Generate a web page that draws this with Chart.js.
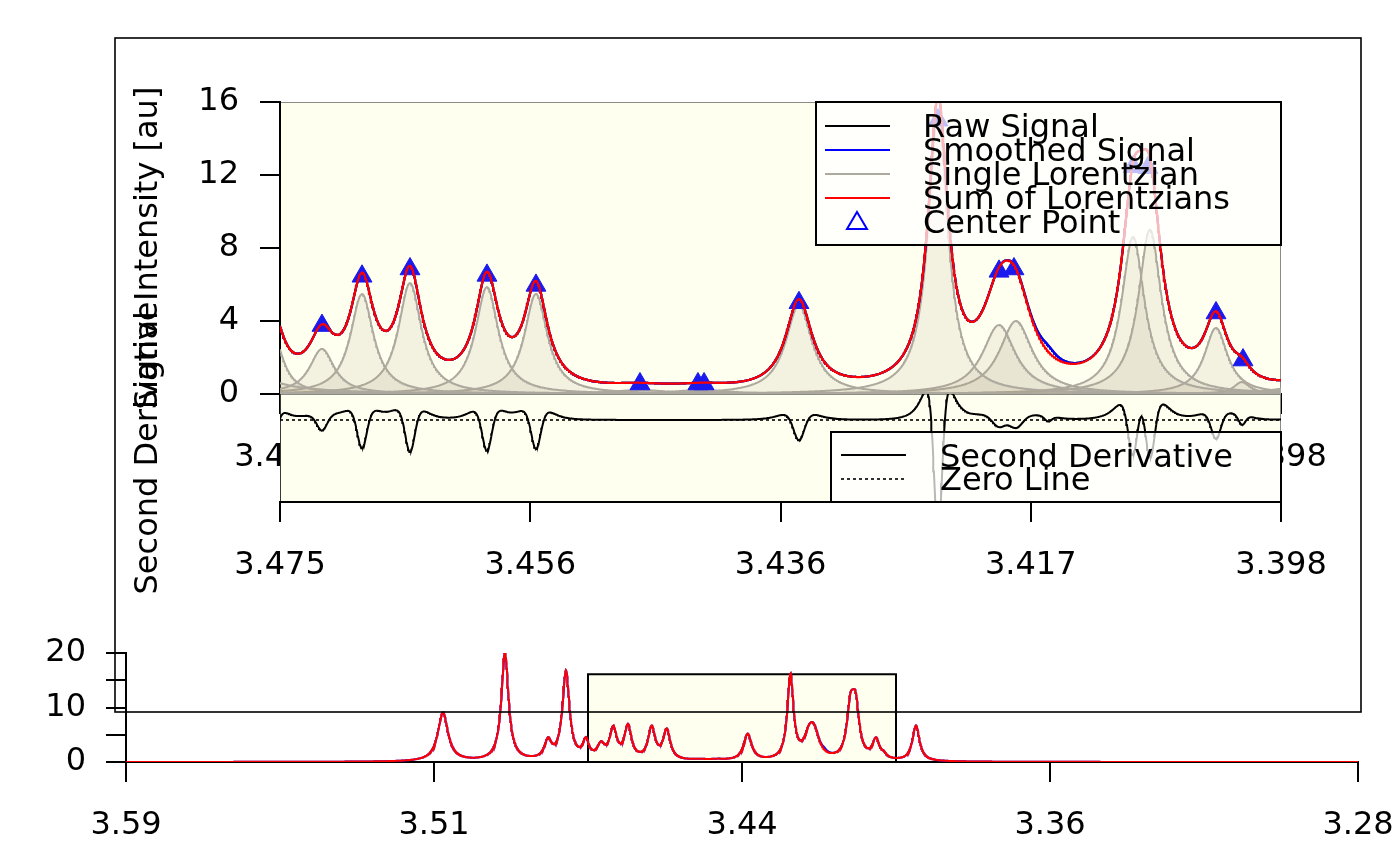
<!DOCTYPE html>
<html>
<head>
<meta charset="utf-8">
<script src="https://cdn.jsdelivr.net/npm/chart.js@4.4.1/dist/chart.umd.min.js"></script>
<style>
html,body{margin:0;padding:0;background:#fff;width:1400px;height:866px;overflow:hidden}
canvas{position:absolute;left:0;top:0}
</style>
</head>
<body>
<canvas id="cMain" width="1400" height="866"></canvas>
<canvas id="cDeriv" width="1400" height="866"></canvas>
<canvas id="cOver" width="1400" height="866"></canvas>
<script>
// ---------------- data ----------------
// Lorentzian components: center (ppm), height (au), half width at half maximum (ppm)
const peakCenters = [3.51125, 3.49575, 3.48500, 3.48050, 3.47554, 3.47177, 3.46869, 3.46500, 3.45908, 3.45531,
                     3.44731, 3.44262, 3.43508, 3.42438, 3.41969, 3.41838, 3.40938, 3.40808, 3.40300, 3.40100, 3.39300];
const peakHeights = [8.95, 19.8, 3.3, 16.2, 3.3, 2.47, 5.48, 6.08, 5.86, 5.48,
                     0.22, 0.22, 4.88, 15.5, 3.78, 4.0, 8.6, 9.0, 3.62, 0.66, 6.5];
const peakWidths  = [0.00154, 0.00108, 0.00108, 0.00108, 0.00092, 0.00115, 0.00108, 0.00108, 0.00108, 0.00108,
                     0.00269, 0.00269, 0.00123, 0.00092, 0.00154, 0.00154, 0.00108, 0.00108, 0.00108, 0.00077, 0.00108];
// small residual shoulder present in the measured (raw / smoothed) signal only
const residualCenters = [3.41591];
const residualHeights = [0.35];
const residualWidths  = [0.00077];
// detected center points
const centerPPM = [3.47177, 3.46869, 3.46500, 3.45908, 3.45531, 3.44731, 3.44285, 3.44238, 3.43508,
                   3.42438, 3.41969, 3.41854, 3.40938, 3.40823, 3.40300, 3.40092];
const centerIntensity = [3.75, 6.45, 6.85, 6.5, 5.95, 0.55, 0.55, 0.55, 5.0,
                         15.0, 6.72, 6.85, 12.45, 12.4, 4.44, 1.86];
// axes
const mainRange = [3.398, 3.475];
const mainXTicks = [3.475, 3.45575, 3.4365, 3.41725, 3.398];
const mainXTickLabels = ['3.475', '3.456', '3.436', '3.417', '3.398'];
const mainYTicks = [0, 4, 8, 12, 16];
const mainYTickLabels = ['0', '4', '8', '12', '16'];
const overRange = [3.2825, 3.5905];
const overXTicks = [3.5905, 3.5135, 3.4365, 3.3595, 3.2825];
const overXTickLabels = ['3.59', '3.51', '3.44', '3.36', '3.28'];
const overYTicks = [0, 5, 10, 15, 20];
const overYTickLabels = ['0', '', '10', '', '20'];
const zoomBoxTop = 16.1;
const legendLabels = ['Raw Signal', 'Smoothed Signal', 'Single Lorentzian', 'Sum of Lorentzians', 'Center Point'];
const derivLegendLabels = ['Second Derivative', 'Zero Line'];

// ---------------- helpers ----------------
const FS = 32;
const lor = (x, c, h, w) => h * w * w / ((x - c) * (x - c) + w * w);
const lor2 = (x, c, h, w) => { const u2 = (x - c) * (x - c), w2 = w * w; return h * w2 * (6 * u2 - 2 * w2) / Math.pow(u2 + w2, 3); };
function grid(a, b, step) { const n = Math.round((b - a) / step); const out = []; for (let i = 0; i <= n; i++) out.push(a + i * step); return out; }
function sumAt(x) { let s = 0; for (let k = 0; k < peakCenters.length; k++) s += lor(x, peakCenters[k], peakHeights[k], peakWidths[k]); return s; }
function residAt(x) { let s = 0; for (let k = 0; k < residualCenters.length; k++) s += lor(x, residualCenters[k], residualHeights[k], residualWidths[k]); return s; }
function d2At(x) {
  let s = 0;
  for (let k = 0; k < peakCenters.length; k++) s += lor2(x, peakCenters[k], peakHeights[k], peakWidths[k]);
  for (let k = 0; k < residualCenters.length; k++) s += lor2(x, residualCenters[k], residualHeights[k], residualWidths[k]);
  return s;
}

const xsMain = grid(mainRange[0], mainRange[1], 0.00005);
const xsOver = grid(overRange[0], overRange[1], 0.0001);

const sumMain = xsMain.map(x => ({x, y: sumAt(x)}));
const smoothMain = xsMain.map(x => ({x, y: sumAt(x) + residAt(x)}));
const rawMain = xsMain.map(x => ({x, y: sumAt(x) + residAt(x)}));
const derivData = xsMain.map(x => ({x, y: d2At(x)}));
const sumOver = xsOver.map(x => ({x, y: sumAt(x)}));
const smoothOver = xsOver.map(x => ({x, y: sumAt(x) + residAt(x)}));

const refDip = d2At(peakCenters[7]);
const derivMin = refDip * 82 / 32;
const derivMax = -refDip * 26 / 32;

Chart.defaults.font.family = 'DejaVu Sans';
Chart.defaults.font.size = FS;
Chart.defaults.color = '#000';

const IVORY = '#FFFFF0';
const panelBg = {
  id: 'panelBg',
  beforeDraw(chart) {
    const a = chart.chartArea, c = chart.ctx;
    c.save();
    c.fillStyle = IVORY;
    c.fillRect(a.left, a.top, a.right - a.left, a.bottom - a.top);
    c.strokeStyle = 'rgba(0,0,0,0.45)';
    c.lineWidth = 1;
    c.strokeRect(a.left + 0.5, a.top + 0.5, a.right - a.left - 1, a.bottom - a.top - 1);
    c.restore();
  }
};

function legendBox(c, x, y, w, h) {
  c.fillStyle = 'rgba(255,255,255,0.72)';
  c.fillRect(x, y, w, h);
  c.strokeStyle = '#000';
  c.lineWidth = 2;
  c.strokeRect(x, y, w, h);
}

const mainLegend = {
  id: 'mainLegend',
  afterDatasetsDraw(chart) {
    const a = chart.chartArea, c = chart.ctx;
    const w = 465, h = 143, x0 = a.right - w, y0 = a.top;
    c.save();
    legendBox(c, x0, y0, w, h);
    const colors = ['#000000', '#0000FF', '#ADA99E', '#FF0000'];
    c.lineWidth = 2;
    for (let i = 0; i < 4; i++) {
      const yy = y0 + 24 + i * 24;
      c.strokeStyle = colors[i];
      c.beginPath(); c.moveTo(x0 + 9, yy); c.lineTo(x0 + 74, yy); c.stroke();
    }
    // open triangle
    const tx = x0 + 41, ty = y0 + 120;
    c.strokeStyle = '#0000FF'; c.lineWidth = 2;
    c.beginPath(); c.moveTo(tx, ty - 10); c.lineTo(tx + 10, ty + 7); c.lineTo(tx - 10, ty + 7); c.closePath(); c.stroke();
    c.fillStyle = '#000';
    c.font = FS + 'px "DejaVu Sans"';
    c.textAlign = 'left'; c.textBaseline = 'alphabetic';
    for (let i = 0; i < legendLabels.length; i++) c.fillText(legendLabels[i], x0 + 107, y0 + 35 + i * 24);
    c.restore();
  }
};

const derivLegend = {
  id: 'derivLegend',
  afterDatasetsDraw(chart) {
    const a = chart.chartArea, c = chart.ctx;
    const w = 450, h = 70, x0 = a.right - w, y0 = a.bottom - h;
    c.save();
    legendBox(c, x0, y0, w, h);
    c.strokeStyle = '#000'; c.lineWidth = 2;
    c.beginPath(); c.moveTo(x0 + 10, y0 + 23); c.lineTo(x0 + 75, y0 + 23); c.stroke();
    c.lineWidth = 1.6; c.setLineDash([3, 3]);
    c.beginPath(); c.moveTo(x0 + 10, y0 + 47); c.lineTo(x0 + 75, y0 + 47); c.stroke();
    c.setLineDash([]);
    c.fillStyle = '#000';
    c.font = FS + 'px "DejaVu Sans"';
    c.textAlign = 'left'; c.textBaseline = 'alphabetic';
    c.fillText(derivLegendLabels[0], x0 + 109, y0 + 35);
    c.fillText(derivLegendLabels[1], x0 + 109, y0 + 58);
    c.restore();
  }
};

const zoomBox = {
  id: 'zoomBox',
  beforeDatasetsDraw(chart) {
    const xs = chart.scales.x, ys = chart.scales.y, c = chart.ctx;
    const l = xs.getPixelForValue(mainRange[1]), r = xs.getPixelForValue(mainRange[0]);
    const t = ys.getPixelForValue(zoomBoxTop), b = ys.getPixelForValue(0);
    c.save();
    c.fillStyle = IVORY; c.fillRect(l, t, r - l, b - t);
    c.strokeStyle = '#000'; c.lineWidth = 2; c.strokeRect(l, t, r - l, b - t);
    c.restore();
  },
  afterDraw(chart) {
    const c = chart.ctx;
    c.save();
    c.strokeStyle = '#000'; c.lineWidth = 1.6;
    c.strokeRect(115, 38, 1246, 674);
    c.restore();
  }
};

function xAxis(range, ticks, labels, height) {
  return {
    type: 'linear', reverse: true, min: range[0], max: range[1],
    afterBuildTicks: s => { s.ticks = ticks.map(v => ({value: v})); },
    afterFit: s => { s.height = height; s.paddingLeft = 0; s.paddingRight = 0; },
    ticks: {autoSkip: false, maxRotation: 0, minRotation: 0, padding: 24, color: '#000',
            font: {size: FS}, callback: (v, i) => labels[i]},
    grid: {drawOnChartArea: false, color: '#000', lineWidth: 2, tickLength: 20},
    border: {display: true, color: '#000', width: 2}
  };
}

const common = {
  responsive: false, animation: false, devicePixelRatio: 1,
  parsing: false, normalized: true,
  events: [],
  plugins: {legend: {display: false}, tooltip: {enabled: false}}
};

// ---------------- main panel ----------------
const compDatasets = peakCenters.map((c0, k) => ({
  label: 'Single Lorentzian',
  data: xsMain.map(x => ({x, y: lor(x, c0, peakHeights[k], peakWidths[k])})),
  borderColor: '#ADA99E', borderWidth: 2, pointRadius: 0,
  fill: 'origin', backgroundColor: 'rgba(175,162,133,0.15)', order: 10 + k
}));

new Chart(document.getElementById('cMain'), {
  type: 'line',
  data: {datasets: [
    {label: 'Sum of Lorentzians', data: sumMain, borderColor: '#FF0000', borderWidth: 2.2, pointRadius: 0, fill: false, order: 0},
    {label: 'Center Point', data: centerPPM.map((x, i) => ({x, y: centerIntensity[i]})), showLine: false,
     pointStyle: 'triangle', pointRadius: 11.5, pointBackgroundColor: '#1a1aee', pointBorderColor: '#1a1aee', pointBorderWidth: 1, order: 1},
    {label: 'Smoothed Signal', data: smoothMain, borderColor: '#0000FF', borderWidth: 2.2, pointRadius: 0, fill: false, order: 2},
    {label: 'Raw Signal', data: rawMain, borderColor: '#000000', borderWidth: 2.2, pointRadius: 0, fill: false, order: 3},
    ...compDatasets
  ]},
  options: Object.assign({}, common, {
    layout: {padding: {left: 0, top: 102, right: 119, bottom: 0}},
    scales: {
      x: xAxis(mainRange, mainXTicks, mainXTickLabels, 472),
      y: {
        min: 0, max: 16,
        afterBuildTicks: s => { s.ticks = mainYTicks.map(v => ({value: v})); },
        afterFit: s => { s.width = 280; s.paddingTop = 0; s.paddingBottom = 0; },
        ticks: {padding: 21, color: '#000', font: {size: FS}, callback: (v, i) => mainYTickLabels[i]},
        grid: {drawOnChartArea: false, color: '#000', lineWidth: 2, tickLength: 20},
        border: {display: true, color: '#000', width: 2},
        title: {display: true, text: 'Signal Intensity [au]', color: '#000', font: {size: FS, lineHeight: 1.2}, padding: {top: 129, bottom: 0}}
      }
    }
  }),
  plugins: [panelBg, mainLegend]
});

// ---------------- second derivative panel ----------------
new Chart(document.getElementById('cDeriv'), {
  type: 'line',
  data: {datasets: [
    {label: 'Second Derivative', data: derivData, borderColor: '#000', borderWidth: 2, pointRadius: 0, fill: false, order: 0},
    {label: 'Zero Line', data: [{x: mainRange[1], y: 0}, {x: mainRange[0], y: 0}], borderColor: '#000', borderWidth: 1.6,
     borderDash: [3, 3], pointRadius: 0, fill: false, order: 1}
  ]},
  options: Object.assign({}, common, {
    layout: {padding: {left: 0, top: 394, right: 119, bottom: 0}},
    scales: {
      x: xAxis(mainRange, mainXTicks, mainXTickLabels, 364),
      y: {
        min: derivMin, max: derivMax,
        afterFit: s => { s.width = 280; s.paddingTop = 0; s.paddingBottom = 0; },
        ticks: {display: false},
        grid: {display: false},
        border: {display: true, color: 'rgba(0,0,0,0.6)', width: 1},
        title: {display: true, text: 'Second Derivative', color: '#000', font: {size: FS, lineHeight: 1.2}, padding: {top: 129, bottom: 0}}
      }
    }
  }),
  plugins: [panelBg, derivLegend]
});

// ---------------- overview panel ----------------
new Chart(document.getElementById('cOver'), {
  type: 'line',
  data: {datasets: [
    {label: 'Sum of Lorentzians', data: sumOver, borderColor: '#FF0000', borderWidth: 2, pointRadius: 0, fill: false, order: 0},
    {label: 'Smoothed Signal', data: smoothOver, borderColor: '#0000FF', borderWidth: 2, pointRadius: 0, fill: false, order: 1}
  ]},
  options: Object.assign({}, common, {
    layout: {padding: {left: 0, top: 653, right: 42, bottom: 0}},
    scales: {
      x: xAxis(overRange, overXTicks, overXTickLabels, 104),
      y: {
        min: 0, max: 20,
        afterBuildTicks: s => { s.ticks = overYTicks.map(v => ({value: v})); },
        afterFit: s => { s.width = 126; s.paddingTop = 0; s.paddingBottom = 0; },
        ticks: {padding: 20, color: '#000', font: {size: FS}, autoSkip: false, callback: (v, i) => overYTickLabels[i]},
        grid: {drawOnChartArea: false, color: '#000', lineWidth: 2, tickLength: 20},
        border: {display: true, color: '#000', width: 2}
      }
    }
  }),
  plugins: [zoomBox]
});
</script>
</body>
</html>
